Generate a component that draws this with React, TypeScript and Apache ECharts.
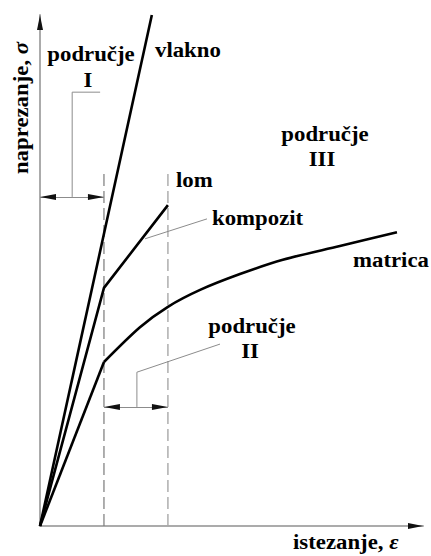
import React, { useEffect, useRef } from "react";
import * as echarts from "echarts";

// axis ranges (arbitrary strain / stress units)
const strainMax = 100;
const stressMax = 100;

// limits of the regions (strain)
const regionLimits = [16.7, 33.4]; // matrix yield, composite fracture
const limitTop = 69.7;

// curves
const fiberStrain = [0, 29.2];
const fiberStress = [0, 100];

const compositeStrain = [0, 16.7, 33.4];
const compositeStress = [0, 46.6, 62.8];

const matrixElasticStrain = [0, 16.7];
const matrixElasticStress = [0, 32.1];

const matrixPlasticStrain = [16.7, 26.1, 33.4, 41.8, 52.2, 63.4, 78.3, 93.2];
const matrixPlasticStress = [32.1, 38.9, 42.9, 46.2, 49.3, 52.1, 54.8, 57.5];

// annotation brackets
const bracketI = [[8.4, 64.4], [8.4, 84.9], [15.7, 84.9]];
const bracketII = [[25.3, 23.3], [25.3, 30.1], [47.0, 35.6]];
const compositeLeader = [[27.4, 56.2], [43.6, 60.1]];
const arrowI = [[0, 64.4], [16.7, 64.4]];
const arrowII = [[16.7, 23.3], [33.4, 23.3]];

const zip = (xs: number[], ys: number[]) => xs.map((x, i) => [x, ys[i]]);

const FONT = '"Liberation Serif", "Times New Roman", serif';
const ARROW = "path://M5 -20 L5 -20 M5 0 L10 20 L0 20 Z";

export default function App() {
  const ref = useRef<HTMLDivElement>(null);
  useEffect(() => {
    if (!ref.current) return;
    const chart = echarts.init(ref.current, null, { renderer: "svg" });
    const black = "#000";
    const gray = "#8c8c8c";
    const lineSeries = (name: string, data: number[][], style: any, extra: any = {}) => ({
      name,
      type: "line",
      data,
      symbol: "none",
      silent: true,
      lineStyle: style,
      z: style.z ?? 2,
      ...extra,
    });
    const txt = (text: string, x: number, y: number, align: string) => ({
      type: "text",
      x,
      y,
      scaleX: 1.14,
      style: {
        text,
        fill: "#000",
        font: `bold 20px ${FONT}`,
        align,
        verticalAlign: "middle",
      },
    });
    const option: any = {
      animation: false,
      backgroundColor: "#fff",
      grid: { left: 40, right: 8, top: 15, bottom: 30 },
      xAxis: {
        type: "value",
        min: 0,
        max: strainMax,
        axisLine: { lineStyle: { color: "#ababab", width: 2 } },
        axisTick: { show: false },
        axisLabel: { show: false },
        splitLine: { show: false },
      },
      yAxis: {
        type: "value",
        min: 0,
        max: stressMax,
        axisLine: { lineStyle: { color: "#ababab", width: 2 } },
        axisTick: { show: false },
        axisLabel: { show: false },
        splitLine: { show: false },
      },
      series: [
        lineSeries("limit1", [[regionLimits[0], 0], [regionLimits[0], limitTop]], { color: "#7a7a7a", width: 1.2, type: [12, 5] }),
        lineSeries("limit2", [[regionLimits[1], 0], [regionLimits[1], limitTop]], { color: "#a8a8a8", width: 1.4, type: [12, 5] }),
        lineSeries("bracketI", bracketI, { color: gray, width: 1 }),
        lineSeries("bracketII", bracketII, { color: gray, width: 1 }),
        lineSeries("leader", compositeLeader, { color: gray, width: 1 }),
        lineSeries("vlakno", zip(fiberStrain, fiberStress), { color: black, width: 2.6, z: 5 }),
        lineSeries("kompozit", zip(compositeStrain, compositeStress), { color: black, width: 2.6, z: 5 }),
        lineSeries("matricaE", zip(matrixElasticStrain, matrixElasticStress), { color: black, width: 2.6, z: 5 }),
        lineSeries("matricaP", zip(matrixPlasticStrain, matrixPlasticStress), { color: black, width: 2.6, z: 5 }, { smooth: 0.3 }),
        {
          name: "arrows",
          type: "line",
          data: [],
          silent: true,
          markLine: {
            silent: true,
            animation: false,
            label: { show: false },
            symbol: "none",
            lineStyle: { color: gray, width: 1, type: "solid" },
            data: [
              [{ coord: arrowI[0] }, { coord: arrowI[1] }],
              [{ coord: arrowII[0] }, { coord: arrowII[1] }],
            ],
          },
        },
        {
          name: "arrowHeads",
          type: "line",
          data: [],
          silent: true,
          markLine: {
            silent: true,
            animation: false,
            label: { show: false },
            symbol: [ARROW, ARROW],
            symbolSize: [6, 32],
            lineStyle: { color: "#111", width: 0, type: "solid" },
            data: [
              [{ coord: arrowI[0] }, { coord: arrowI[1] }],
              [{ coord: arrowII[0] }, { coord: arrowII[1] }],
            ],
          },
          markPoint: {
            silent: true,
            animation: false,
            label: { show: false },
            symbol: ARROW,
            symbolSize: [6, 30],
            itemStyle: { color: "#111" },
            data: [
              { coord: [0, stressMax], symbolRotate: 0 },
              { coord: [strainMax, 0], symbolRotate: -90 },
            ],
          },
        },
      ],
      graphic: [
        txt("područje", 91, 54, "center"),
        txt("I", 88, 80, "center"),
        txt("vlakno", 155, 50, "left"),
        txt("lom", 176, 180, "left"),
        txt("kompozit", 212, 218, "left"),
        txt("područje", 325, 134, "center"),
        txt("III", 322, 159, "center"),
        txt("matrica", 353, 260, "left"),
        txt("područje", 252, 326, "center"),
        txt("II", 250, 351, "center"),
        {
          type: "text",
          x: 293,
          y: 542,
          scaleX: 1.14,
          style: {
            text: "istezanje, {i|ε}",
            fill: "#000",
            font: `bold 20px ${FONT}`,
            align: "left",
            verticalAlign: "middle",
            rich: { i: { fontStyle: "italic", fontWeight: "bold", fontSize: 20, fontFamily: FONT } },
          },
        },
        {
          type: "text",
          x: 21,
          y: 108,
          rotation: Math.PI / 2,
          scaleX: 1.14,
          style: {
            text: "naprezanje, {i|σ}",
            fill: "#000",
            font: `bold 20px ${FONT}`,
            align: "center",
            verticalAlign: "middle",
            rich: { i: { fontStyle: "italic", fontWeight: "bold", fontSize: 20, fontFamily: FONT } },
          },
        },
      ],
    };
    chart.setOption(option);
    return () => chart.dispose();
  }, []);
  return (
    <div
      ref={ref}
      style={{ position: "fixed", left: 0, top: 0, width: 431, height: 556, background: "#fff" }}
    />
  );
}
